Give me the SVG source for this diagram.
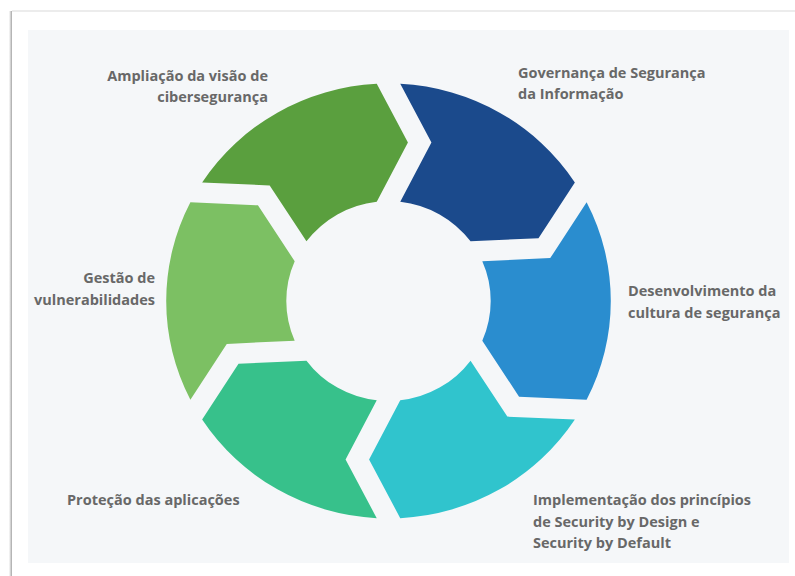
<svg xmlns="http://www.w3.org/2000/svg" width="795" height="576" viewBox="0 0 795 576">
<defs>
<style>
.lbl{font-family:"Open Sans","Liberation Sans",sans-serif;font-weight:700;font-size:14.5px;fill:#686868}
.r{text-anchor:end}
</style>
<linearGradient id="sh" x1="0" x2="1" y1="0" y2="0">
<stop offset="0" stop-color="#ffffff"/>
<stop offset="0.5" stop-color="#b5b5b5"/>
<stop offset="1" stop-color="#e6e6e6"/>
</linearGradient>
</defs>
<rect x="0" y="0" width="795" height="576" fill="#ffffff"/>
<rect x="9" y="11" width="5" height="565" fill="url(#sh)"/>
<rect x="12" y="10" width="783" height="2" fill="#ececec"/>
<rect x="12" y="12" width="783" height="564" fill="#ffffff"/>
<rect x="28" y="30" width="761" height="533" fill="#f5f7f9"/>
<g transform="translate(388.5,301) scale(1.022,1)">
<g id="ampliacao"><path fill="#5a9f3e" d="M -182.35,-118.56 A 217.5 217.5 0 0 1 -11.5,-217.2 L 19,-158.5 L -11.5,-99.34 A 100 100 0 0 0 -80.28,-59.63 L -116.26,-115.62 Z"/></g>
<g id="governanca"><path fill="#1b4a8c" d="M 11.5,-217.2 A 217.5 217.5 0 0 1 182.35,-118.56 L 146.76,-62.8 L 80.28,-59.63 A 100 100 0 0 0 11.5,-99.34 L 42,-158.5 Z"/></g>
<g id="desenvolvimento"><path fill="#2a8dcf" d="M 193.85,-98.64 A 217.5 217.5 0 0 1 193.85,98.64 L 127.76,95.7 L 91.78,39.71 A 100 100 0 0 0 91.78,-39.71 L 158.26,-42.88 Z"/></g>
<g id="implementacao"><path fill="#30c4cd" d="M 182.35,118.56 A 217.5 217.5 0 0 1 11.5,217.2 L -19,158.5 L 11.5,99.34 A 100 100 0 0 0 80.28,59.63 L 116.26,115.62 Z"/></g>
<g id="protecao"><path fill="#37c18b" d="M -11.5,217.2 A 217.5 217.5 0 0 1 -182.35,118.56 L -146.76,62.8 L -80.28,59.63 A 100 100 0 0 0 -11.5,99.34 L -42,158.5 Z"/></g>
<g id="gestao"><path fill="#7cc063" d="M -193.85,98.64 A 217.5 217.5 0 0 1 -193.85,-98.64 L -127.76,-95.7 L -91.78,-39.71 A 100 100 0 0 0 -91.78,39.71 L -158.26,42.88 Z"/></g>
</g>
<g id="connectors"></g>
<g id="labels">
<text class="lbl r" x="268" y="81">Ampliação da visão de</text>
<text class="lbl r" x="268" y="102">cibersegurança</text>
<text class="lbl" x="518" y="78">Governança de Segurança</text>
<text class="lbl" x="518" y="99">da Informação</text>
<text class="lbl r" x="155" y="283">Gestão de</text>
<text class="lbl r" x="155" y="305">vulnerabilidades</text>
<text class="lbl" x="628" y="296">Desenvolvimento da</text>
<text class="lbl" x="628" y="318">cultura de segurança</text>
<text class="lbl" x="67" y="505">Proteção das aplicações</text>
<text class="lbl" x="533" y="505">Implementação dos princípios</text>
<text class="lbl" x="533" y="527">de Security by Design e</text>
<text class="lbl" x="533" y="548">Security by Default</text>
</g>
</svg>
